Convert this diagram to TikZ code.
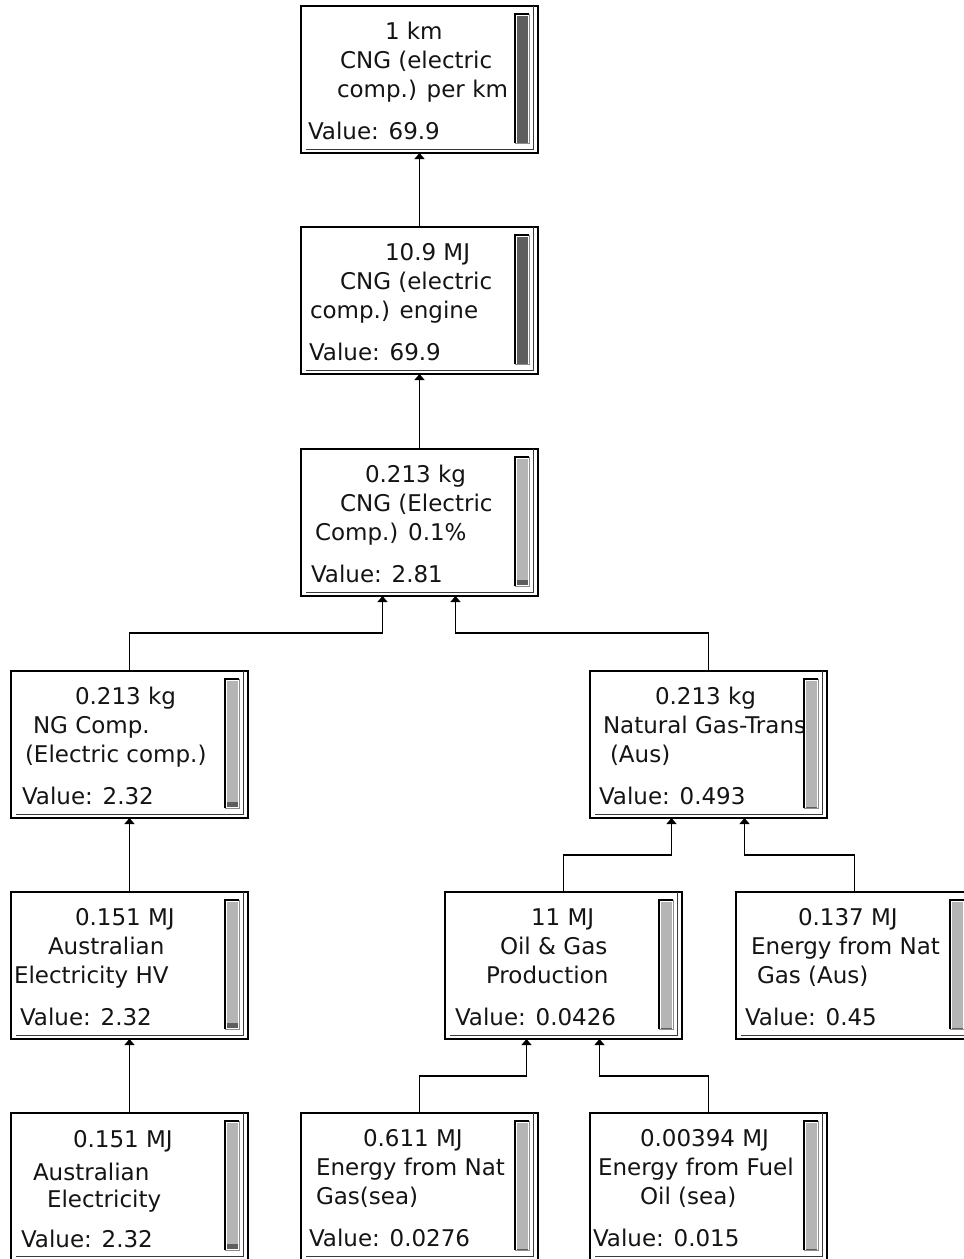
\documentclass[tikz,border=0pt]{standalone}
\usepackage{fontspec}
\setmainfont{DejaVu Sans}
\usetikzlibrary{calc,arrows.meta}

\definecolor{bardark}{HTML}{5E5E5E}
\definecolor{barlight}{HTML}{B5B5B5}
\definecolor{frameshade}{HTML}{3A3A3A}

% one process box: name, left, top
\newcommand\procbox[3]{%
  \node[box] (#1) at (#2+118.5,#3+73.5) {};
  \draw[shade] ($(#1.south west)+(5,-4)$) -| ($(#1.north east)+(-5,0)$);
}
% one text line: box, x offset, baseline offset, text
\newcommand\btext[4]{%
  \node[lbl,anchor=base west] at ($(#1.north west)+(#2,#3)$) {#4};}
% level bar: box, fill colour, start of dark part (137 = none)
\newcommand\levelbar[3]{%
  \fill[white] ($(#1.north west)+(213,7)$) rectangle ($(#1.north west)+(229,138)$);
  \fill[#2] ($(#1.north west)+(216,10)$) rectangle ($(#1.north west)+(227,136)$);
  \fill[bardark] ($(#1.north west)+(216,#3)$) rectangle ($(#1.north west)+(227,136)$);
  \draw[line width=0.8pt,black!45] ($(#1.north west)+(214,137)$) -| ($(#1.north west)+(228,8)$);
  \draw[line width=1.5pt,black] ($(#1.north west)+(214,137)$) |- ($(#1.north west)+(228,8)$);
}

\begin{document}
\begin{tikzpicture}[x=1pt,y=-1pt,
  box/.style={draw=black,line width=1.5pt,minimum width=237pt,minimum height=147pt,
    inner sep=0pt,outer sep=0pt,fill=white},
  shade/.style={line width=1pt,frameshade},
  lbl/.style={inner sep=0pt,outer sep=0pt,text=black!92,font=\fontsize{23}{28}\selectfont},
  conn/.style={line width=1.3pt,black,-{Triangle[width=10pt,length=6pt]}}]

\useasboundingbox (0,0) rectangle (964,1259);
\clip (0,0) rectangle (964,1259);

% ---- boxes ----
\procbox{km}{301}{6}
\btext{km}{84}{33}{1 km}
\btext{km}{39}{62}{CNG (electric}
\btext{km}{36}{91}{comp.) per km}
\btext{km}{7}{133}{Value: 69.9}
\levelbar{km}{bardark}{137}

\procbox{engine}{301}{227}
\btext{engine}{84}{33}{10.9 MJ}
\btext{engine}{39}{62}{CNG (electric}
\btext{engine}{9}{91}{comp.) engine}
\btext{engine}{8}{133}{Value: 69.9}
\levelbar{engine}{bardark}{137}

\procbox{cng}{301}{449}
\btext{cng}{64}{33}{0.213 kg}
\btext{cng}{39}{62}{CNG (Electric}
\btext{cng}{14}{91}{Comp.) 0.1\%}
\btext{cng}{10}{133}{Value: 2.81}
\levelbar{cng}{barlight}{131}

\procbox{ngcomp}{11}{671}
\btext{ngcomp}{64}{33}{0.213 kg}
\btext{ngcomp}{22}{62}{NG Comp.}
\btext{ngcomp}{14}{91}{(Electric comp.)}
\btext{ngcomp}{11}{133}{Value: 2.32}
\levelbar{ngcomp}{barlight}{131}

\procbox{ngtrans}{590}{671}
\btext{ngtrans}{65}{33}{0.213 kg}
\btext{ngtrans}{13}{62}{Natural Gas-Trans}
\btext{ngtrans}{20}{91}{(Aus)}
\btext{ngtrans}{9}{133}{Value: 0.493}
\levelbar{ngtrans}{barlight}{137}

\procbox{elechv}{11}{892}
\btext{elechv}{64}{33}{0.151 MJ}
\btext{elechv}{37}{62}{Australian}
\btext{elechv}{3}{91}{Electricity HV}
\btext{elechv}{9}{133}{Value: 2.32}
\levelbar{elechv}{barlight}{131}

\procbox{oilgas}{445}{892}
\btext{oilgas}{86}{33}{11 MJ}
\btext{oilgas}{55}{62}{Oil \& Gas}
\btext{oilgas}{41}{91}{Production}
\btext{oilgas}{10}{133}{Value: 0.0426}
\levelbar{oilgas}{barlight}{137}

\procbox{gasaus}{736}{892}
\btext{gasaus}{62}{33}{0.137 MJ}
\btext{gasaus}{15}{62}{Energy from Nat}
\btext{gasaus}{21}{91}{Gas (Aus)}
\btext{gasaus}{9}{133}{Value: 0.45}
\levelbar{gasaus}{barlight}{137}

\procbox{elec}{11}{1113}
\btext{elec}{62}{34}{0.151 MJ}
\btext{elec}{22}{67}{Australian}
\btext{elec}{36}{94}{Electricity}
\btext{elec}{10}{134}{Value: 2.32}
\levelbar{elec}{barlight}{131}

\procbox{gassea}{301}{1113}
\btext{gassea}{62}{33}{0.611 MJ}
\btext{gassea}{15}{62}{Energy from Nat}
\btext{gassea}{15}{91}{Gas(sea)}
\btext{gassea}{8}{133}{Value: 0.0276}
\levelbar{gassea}{barlight}{137}

\procbox{oilsea}{590}{1113}
\btext{oilsea}{50}{33}{0.00394 MJ}
\btext{oilsea}{8}{62}{Energy from Fuel}
\btext{oilsea}{50}{91}{Oil (sea)}
\btext{oilsea}{3}{133}{Value: 0.015}
\levelbar{oilsea}{barlight}{137}

% ---- connectors ----
\draw[conn] (engine.north) -- (km.south);
\draw[conn] (cng.north) -- (engine.south);
\draw[conn] (ngcomp.north) |- ($(cng.south)+(-37,37)$) -- ($(cng.south)+(-37,0)$);
\draw[conn] (ngtrans.north) |- ($(cng.south)+(36,37)$) -- ($(cng.south)+(36,0)$);
\draw[conn] (elechv.north) -- (ngcomp.south);
\draw[conn] (oilgas.north) |- ($(ngtrans.south)+(-37,37)$) -- ($(ngtrans.south)+(-37,0)$);
\draw[conn] (gasaus.north) |- ($(ngtrans.south)+(36,37)$) -- ($(ngtrans.south)+(36,0)$);
\draw[conn] (elec.north) -- (elechv.south);
\draw[conn] (gassea.north) |- ($(oilgas.south)+(-37,37)$) -- ($(oilgas.south)+(-37,0)$);
\draw[conn] (oilsea.north) |- ($(oilgas.south)+(36,37)$) -- ($(oilgas.south)+(36,0)$);
\end{tikzpicture}
\end{document}
